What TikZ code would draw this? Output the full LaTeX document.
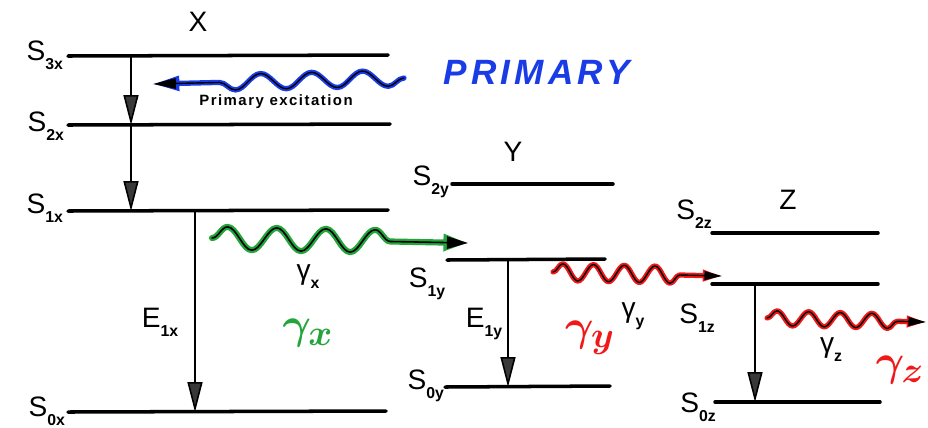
\documentclass[tikz,border=0pt]{standalone}
\usepackage{fontspec}
\setmainfont{Liberation Sans}
\usetikzlibrary{arrows.meta,decorations.pathmorphing}
\definecolor{penblue}{RGB}{25,60,230}
\definecolor{pengreen}{RGB}{35,165,60}
\definecolor{penred}{RGB}{240,25,25}
\newcommand\lsub[1]{\raisebox{-0.6ex}{\fontsize{9}{9}\selectfont\bfseries #1}}
\begin{document}
\begin{tikzpicture}[x=0.02cm,y=-0.02cm,line cap=round,line join=round,
  level/.style={line width=2pt},
  decay/.style={line width=0.9pt,-{Triangle[length=17pt,width=8.5pt,fill=gray!45!black]}},
  lbl/.style={font=\fontsize{16}{16}\selectfont,inner sep=1pt},
  ink/.style={font=\fontsize{30}{30}\selectfont\boldmath,inner sep=0pt},
  photon/.style n args={3}{decorate,decoration={snake,segment length=#1,amplitude=#2,post length=#3}}]
  \useasboundingbox (0,0) rectangle (928,427);
  % molecule X
  \begin{scope}
    \coordinate (s3xL) at (68,56);  \coordinate (s3xR) at (388,55);
    \coordinate (s2xL) at (68,125); \coordinate (s2xR) at (390,124);
    \coordinate (s1xL) at (68,211); \coordinate (s1xR) at (388,210);
    \coordinate (s0xL) at (68,412); \coordinate (s0xR) at (386,411);
    \coordinate (cX) at (131,0);
    \coordinate (eX) at (195,0);
    \draw[level] (s3xL) -- (s3xR);
    \draw[level] (s2xL) -- (s2xR);
    \draw[level] (s1xL) -- (s1xR);
    \draw[level] (s0xL) -- (s0xR);
    \draw[decay] (s3xL -| cX) -- (s2xL -| cX);
    \draw[decay] (s2xL -| cX) -- (s1xL -| cX);
    \draw[decay] (s1xL -| eX) -- (s0xL -| eX);
    \node[lbl] (nX) at (198,22) {X};
    \node[lbl,anchor=east] (l3x) at (65,55) {S\lsub{3x}};
    \node[lbl,anchor=east] (l2x) at (66,126) {S\lsub{2x}};
    \node[lbl,anchor=east] (l1x) at (65,208) {S\lsub{1x}};
    \node[lbl,anchor=east] (l0x) at (67,411) {S\lsub{0x}};
    \node[lbl] (e1x) at (160,322) {E\lsub{1x}};
    \node[lbl] (gx) at (308,277) {γ\lsub{x}};
  \end{scope}
  % primary excitation
  \coordinate (pA) at (404,78);
  \coordinate (pB) at (153,84);
  \draw[penblue,line width=3pt,photon={29pt}{4.5pt}{24pt},-{Triangle[length=15pt,width=8pt]}] (pA) -- (pB);
  \draw[line width=0.8pt,photon={29pt}{4.5pt}{24pt},-{Triangle[length=13pt,width=6pt]}] (pA) -- (pB);
  \node[font=\fontsize{8.5}{8.5}\selectfont\bfseries\addfontfeature{LetterSpace=10}] (pe) at (276,102) {Primary excitation};
  \node[penblue,font=\fontsize{20}{20}\selectfont\itshape\bfseries\addfontfeature{LetterSpace=12}] (prim) at (537,72) {PRIMARY};
  % transfer X -> Y
  \coordinate (gxA) at (212,238);
  \coordinate (gxB) at (468,243);
  \draw[pengreen,line width=3.5pt,photon={28pt}{6.5pt}{38pt},-{Triangle[length=14pt,width=9pt]}] (gxA) -- (gxB);
  \draw[line width=0.9pt,photon={28pt}{6.5pt}{38pt},-{Triangle[length=12pt,width=7pt]}] (gxA) -- (gxB);
  \node[ink,pengreen] (hx) at (308,333) {$\gamma_x$};
  % molecule Y
  \begin{scope}
    \coordinate (s2yL) at (452,184); \coordinate (s2yR) at (613,184);
    \coordinate (s1yL) at (447,260); \coordinate (s1yR) at (605,259);
    \coordinate (s0yL) at (445,387); \coordinate (s0yR) at (610,386);
    \coordinate (eY) at (508,0);
    \draw[level] (s2yL) -- (s2yR);
    \draw[level] (s1yL) -- (s1yR);
    \draw[level] (s0yL) -- (s0yR);
    \draw[decay] (s1yL -| eY) -- (s0yL -| eY);
    \node[lbl] (nY) at (513,152) {Y};
    \node[lbl,anchor=east] (l2y) at (451,182) {S\lsub{2y}};
    \node[lbl] (l1y) at (427,284) {S\lsub{1y}};
    \node[lbl,anchor=east] (l0y) at (446,386) {S\lsub{0y}};
    \node[lbl] (e1y) at (484,324) {E\lsub{1y}};
    \node[lbl] (gy) at (633,316) {γ\lsub{y}};
  \end{scope}
  % transfer Y -> Z
  \coordinate (gyA) at (553,272);
  \coordinate (gyB) at (722,276);
  \draw[penred,line width=3pt,photon={17.5pt}{4.8pt}{17pt},-{Triangle[length=11pt,width=6pt]}] (gyA) -- (gyB);
  \draw[line width=0.8pt,photon={17.5pt}{4.8pt}{17pt},-{Triangle[length=10pt,width=5pt]}] (gyA) -- (gyB);
  \node[ink,penred] (hy) at (590,338) {$\gamma_y$};
  % molecule Z
  \begin{scope}
    \coordinate (s2zL) at (712,233); \coordinate (s2zR) at (878,233);
    \coordinate (s1zL) at (712,284); \coordinate (s1zR) at (878,284);
    \coordinate (s0zL) at (715,402); \coordinate (s0zR) at (880,402);
    \coordinate (eZ) at (755,0);
    \draw[level] (s2zL) -- (s2zR);
    \draw[level] (s1zL) -- (s1zR);
    \draw[level] (s0zL) -- (s0zR);
    \draw[decay] (s1zL -| eZ) -- (s0zL -| eZ);
    \node[lbl] (nZ) at (788,200) {Z};
    \node[lbl] (l2z) at (694,214) {S\lsub{2z}};
    \node[lbl] (l1z) at (697,318) {S\lsub{1z}};
    \node[lbl] (l0z) at (698,407) {S\lsub{0z}};
    \node[lbl] (gz) at (831,350) {γ\lsub{z}};
  \end{scope}
  % emission from Z
  \coordinate (gzA) at (767,318);
  \coordinate (gzB) at (926,322);
  \draw[penred,line width=3pt,photon={18pt}{4.2pt}{16pt},-{Triangle[length=11pt,width=6pt]}] (gzA) -- (gzB);
  \draw[line width=0.8pt,photon={18pt}{4.2pt}{16pt},-{Triangle[length=10pt,width=5pt]}] (gzA) -- (gzB);
  \node[ink,penred] (hz) at (900,370) {$\gamma_z$};
\end{tikzpicture}
\end{document}
